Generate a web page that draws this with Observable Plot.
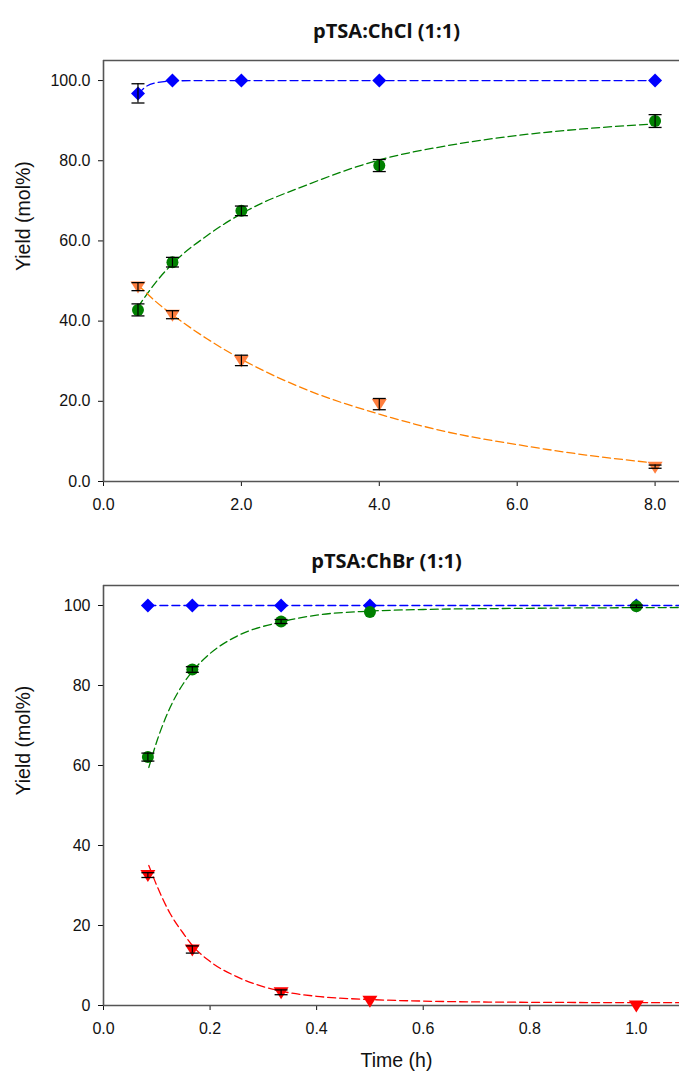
<!DOCTYPE html>
<html>
<head>
<meta charset="utf-8">
<script src="https://cdn.jsdelivr.net/npm/d3@7"></script>
<script src="https://cdn.jsdelivr.net/npm/@observablehq/plot@0.6"></script>
<style>
  body { margin: 0; background: #fff; }
  #chart { width: 679px; }
  #chart svg { display: block; overflow: visible; font-family: "Liberation Sans", Arial, sans-serif !important; font-size: 16px !important; }
</style>
</head>
<body>
<div id="chart"></div>
<script>
// ---------- Panel A: pTSA:ChCl (1:1) ----------
const titleA = "pTSA:ChCl (1:1)";
const timeA = [0.5, 1, 2, 4, 8];
const conversionA = [96.8, 100, 100, 100, 100];
const conversionErrA = [2.4, 0, 0, 0, 0];
const productA = [42.8, 54.7, 67.5, 78.8, 89.9];
const productErrA = [1.5, 1.2, 1.2, 1.5, 1.6];
const intermediateA = [48.6, 41.6, 30.2, 19.3, 3.7];
const intermediateErrA = [1.0, 1.0, 1.3, 1.4, 0.4];
const fitTimeA = [0.5, 0.6, 0.75, 1, 1.5, 2, 3, 4, 5, 6, 7, 8];
const fitConversionA = [96.6, 98.3, 99.4, 99.9, 100, 100, 100, 100, 100, 100, 100, 100];
const fitProductA = [43.5, 46.0, 49.5, 54.3, 61.3, 66.8, 74.3, 80.2, 83.8, 86.3, 88.0, 89.2];
const fitIntermediateA = [49.0, 47.4, 45.0, 41.6, 35.6, 30.5, 22.5, 16.8, 12.3, 9.2, 6.6, 4.6];
const xTicksA = [0, 2, 4, 6, 8];
const yTicksA = [0, 20, 40, 60, 80, 100];

// ---------- Panel B: pTSA:ChBr (1:1) ----------
const titleB = "pTSA:ChBr (1:1)";
const timeB = [0.0833, 0.1667, 0.3333, 0.5, 1.0];
const conversionB = [100, 100, 100, 100, 100];
const conversionErrB = [0, 0, 0, 0, 0];
const productB = [62.1, 84.0, 96.0, 98.4, 99.8];
const productErrB = [1.0, 0.7, 0.5, 0, 0.3];
const intermediateB = [32.6, 14.0, 3.3, 1.2, 0.0];
const intermediateErrB = [0.6, 0.9, 0.6, 0, 0];
const fitTimeB = [0.085, 0.1, 0.125, 0.15, 0.1667, 0.2, 0.25, 0.3333, 0.4, 0.5, 0.6, 0.8, 1.081];
const fitProductB = [59.5, 66.0, 74.5, 80.5, 83.5, 88.0, 92.3, 95.9, 97.6, 98.6, 99.0, 99.3, 99.5];
const fitIntermediateB = [35.0, 30.0, 23.0, 18.0, 15.0, 11.0, 7.2, 3.6, 2.3, 1.5, 1.1, 0.8, 0.7];
const fitTimeConvB = [0.0833, 1.081];
const fitConversionB = [100, 100];
const xTicksB = [0, 0.2, 0.4, 0.6, 0.8, 1.0];
const yTicksB = [0, 20, 40, 60, 80, 100];

const yLabel = "Yield (mol%)";
const xLabel = "Time (h)";

// ---------- styles ----------
const BLUE = "#0000ff", GREEN = "#008000", ORANGE_M = "#ff7f3f", ORANGE_L = "#ff8000", RED = "#ff0000";
const AXIS = "#555555";
const FONT = "Liberation Sans, Arial, sans-serif";
const TITLE_FONT = "Open Sans, Noto Sans, sans-serif";

const rad = (size) => Math.sqrt(size / Math.PI);
const diamondSym = { draw(ctx, size) { const h = rad(size); ctx.moveTo(0, -h); ctx.lineTo(h, 0); ctx.lineTo(0, h); ctx.lineTo(-h, 0); ctx.closePath(); } };
const triDownSym = { draw(ctx, size) { const h = rad(size); ctx.moveTo(-h, -h * 0.67); ctx.lineTo(h, -h * 0.67); ctx.lineTo(0, h * 0.93); ctx.closePath(); } };
const capSym = { draw(ctx, size) { const h = rad(size); ctx.moveTo(-h, 0); ctx.lineTo(h, 0); } };

const rows = (t, v, e) => t.map((x, i) => ({ t: x, v: v[i], e: e ? e[i] : 0 }));

function panel(cfg) {
  const marks = [
    Plot.ruleY([105], { stroke: AXIS, strokeWidth: 1.6 }),
    Plot.ruleX([0], { stroke: AXIS, strokeWidth: 1.6 }),
    Plot.ruleY([0], { stroke: AXIS, strokeWidth: 1.6 })
  ];
  for (const f of cfg.fits) {
    marks.push(Plot.line(rows(f.t, f.v), { x: "t", y: "v", stroke: f.color, strokeWidth: 1.3, strokeDasharray: "8,4", curve: "monotone-x" }));
  }
  for (const s of cfg.series) {
    marks.push(Plot.dot(rows(cfg.time, s.v, s.e), { x: "t", y: "v", symbol: s.symbol, r: s.r, fill: s.color, stroke: "none" }));
  }
  for (const s of cfg.series) {
    const er = rows(cfg.time, s.v, s.e).filter(d => d.e > 0);
    marks.push(Plot.ruleX(er, { x: "t", y1: d => d.v - d.e, y2: d => d.v + d.e, stroke: "black", strokeWidth: 1.2 }));
    marks.push(Plot.dot(er, { x: "t", y: d => d.v + d.e, symbol: capSym, r: 6.5, stroke: "black", fill: "none", strokeWidth: 1.3 }));
    marks.push(Plot.dot(er, { x: "t", y: d => d.v - d.e, symbol: capSym, r: 6.5, stroke: "black", fill: "none", strokeWidth: 1.3 }));
  }
  marks.push(Plot.text([cfg.title], { frameAnchor: "top", lineAnchor: "bottom", dx: -5, dy: cfg.titleDy, text: d => d, fontFamily: TITLE_FONT, fontWeight: "bold", fontSize: 20, fill: "#111" }));
  marks.push(Plot.text([yLabel], { frameAnchor: "left", dx: -80, rotate: -90, text: d => d, fontFamily: FONT, fontSize: 19.5, fill: "#111" }));
  if (cfg.xLabel) {
    marks.push(Plot.text([cfg.xLabel], { frameAnchor: "bottom", lineAnchor: "bottom", dx: 5, dy: cfg.xLabelDy, text: d => d, fontFamily: FONT, fontSize: 19.5, fill: "#111" }));
  }
  return Plot.plot({
    width: 679,
    height: cfg.height,
    marginLeft: 103,
    marginRight: 0,
    marginTop: cfg.marginTop,
    marginBottom: cfg.marginBottom,
    style: { fontFamily: FONT, fontSize: "16px", color: "#111", background: "white", overflow: "visible" },
    x: { domain: cfg.xDomain, ticks: cfg.xTicks, tickFormat: d3.format(".1f"), tickSize: 5, tickPadding: 12, label: null },
    y: { domain: [0, 105], ticks: cfg.yTicks, tickFormat: cfg.yFormat, tickSize: 5, tickPadding: 8, label: null },
    marks
  });
}

const chart = document.getElementById("chart");

chart.append(panel({
  title: titleA, titleDy: -23,
  height: 540, marginTop: 60, marginBottom: 59,
  xDomain: [0, 8.354], xTicks: xTicksA, yTicks: yTicksA, yFormat: d3.format(".1f"),
  time: timeA,
  series: [
    { v: conversionA, e: conversionErrA, color: BLUE, symbol: diamondSym, r: 7 },
    { v: productA, e: productErrA, color: GREEN, symbol: "circle", r: 6 },
    { v: intermediateA, e: intermediateErrA, color: ORANGE_M, symbol: triDownSym, r: 7.5 }
  ],
  fits: [
    { t: fitTimeA, v: fitConversionA, color: BLUE },
    { t: fitTimeA, v: fitProductA, color: GREEN },
    { t: fitTimeA, v: fitIntermediateA, color: ORANGE_L }
  ]
}));

chart.append(panel({
  title: titleB, titleDy: -18,
  height: 534, marginTop: 45, marginBottom: 69,
  xDomain: [0, 1.081], xTicks: xTicksB, yTicks: yTicksB, yFormat: d3.format("d"),
  time: timeB,
  xLabel: xLabel, xLabelDy: 61,
  series: [
    { v: conversionB, e: conversionErrB, color: BLUE, symbol: diamondSym, r: 7 },
    { v: productB, e: productErrB, color: GREEN, symbol: "circle", r: 6 },
    { v: intermediateB, e: intermediateErrB, color: RED, symbol: triDownSym, r: 7.5 }
  ],
  fits: [
    { t: fitTimeConvB, v: fitConversionB, color: BLUE },
    { t: fitTimeB, v: fitProductB, color: GREEN },
    { t: fitTimeB, v: fitIntermediateB, color: RED }
  ]
}));
</script>
</body>
</html>
